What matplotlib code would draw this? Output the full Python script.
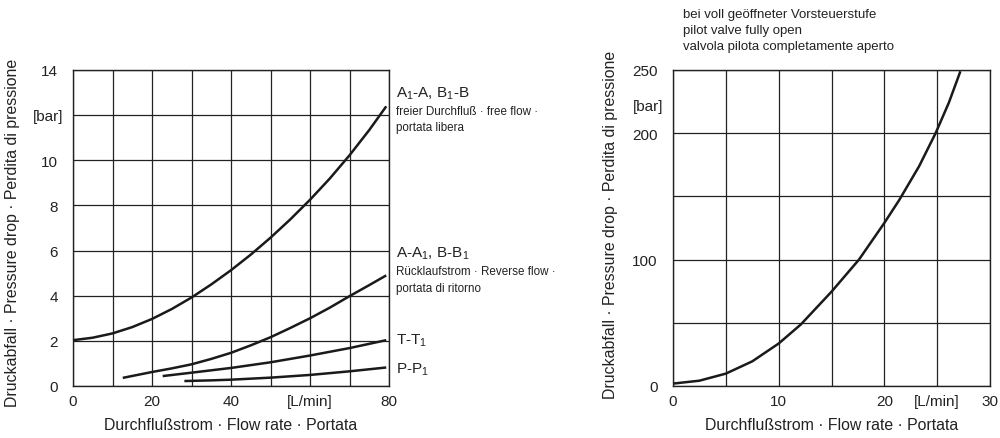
import numpy as np
import matplotlib
matplotlib.use("Agg")
import matplotlib.pyplot as plt

plt.rcParams['font.family'] = ['Liberation Sans', 'DejaVu Sans']
plt.rcParams['mathtext.fontset'] = 'custom'
plt.rcParams['mathtext.rm'] = 'Liberation Sans'

# --- left chart data (flow L/min, pressure drop bar)
free_x = [0, 5, 10, 15, 20, 25, 30, 35, 40, 45, 50, 55, 60, 65, 70, 75, 79.3]
free_y = [2.03, 2.14, 2.33, 2.61, 2.97, 3.41, 3.92, 4.50, 5.13, 5.82, 6.57, 7.38, 8.25, 9.19, 10.22, 11.34, 12.39]
rev_x = [12.6, 20, 25, 30, 35, 40, 45, 50, 55, 60, 65, 70, 75, 79.3]
rev_y = [0.36, 0.62, 0.78, 0.96, 1.2, 1.47, 1.8, 2.16, 2.57, 3.0, 3.47, 3.98, 4.47, 4.9]
tt_x = [22.7, 30, 40, 50, 60, 70, 79.3]
tt_y = [0.44, 0.59, 0.8, 1.05, 1.35, 1.68, 2.03]
pp_x = [28.2, 35, 40, 50, 60, 70, 79.3]
pp_y = [0.22, 0.25, 0.28, 0.37, 0.49, 0.65, 0.82]

left_xticks = [0, 20, 40, 60, 80]
left_xlabels = ["0", "20", "40", "[L/min]", "80"]
left_yticks = [0, 2, 4, 6, 8, 10, 12, 14]
left_ylabels = ["0", "2", "4", "6", "8", "10", "", "14"]

# --- right chart data
pilot_x = [0, 2.5, 5, 7.5, 10, 12.1, 15, 17.6, 20, 21.4, 23.3, 24.85, 26.1, 27.2]
pilot_y = [1.9, 4.2, 9.8, 19.5, 33.6, 48.7, 74.6, 100, 129, 147, 174, 200, 224, 249]

right_xticks = [0, 10, 20, 25, 30]
right_xlabels = ["0", "10", "20", "[L/min]", "30"]
right_yticks = [0, 50, 100, 150, 200, 250]
right_ylabels = ["0", "", "100", "", "200", "250"]

W, H = 1000, 439
fig = plt.figure(figsize=(W / 100, H / 100), dpi=100)
txt = '#222222'


def px(x, y):
    return x / W, 1 - y / H


def setup(ax, xmax, ymax, xstep, ystep, xt, xl, yt, yl):
    ax.set_xlim(0, xmax)
    ax.set_ylim(0, ymax)
    ax.set_xticks(np.arange(0, xmax + 0.01, xstep), minor=True)
    ax.set_yticks(np.arange(0, ymax + 0.01, ystep), minor=True)
    ax.set_xticks(xt, xl)
    ax.set_yticks(yt, yl)
    ax.grid(which='both', color='#222222', lw=0.9)
    ax.tick_params(which='both', length=0, labelsize=11, colors=txt)
    ax.tick_params(axis='x', pad=6)
    ax.tick_params(axis='y', pad=11)
    for s in ax.spines.values():
        s.set_color('#222222')
        s.set_linewidth(1.0)
    ax.set_axisbelow(True)


ax1 = fig.add_axes([73 / W, 52 / H, 316 / W, 316 / H])
setup(ax1, 80, 14, 10, 2, left_xticks, left_xlabels, left_yticks, left_ylabels)
for xs, ys in [(free_x, free_y), (rev_x, rev_y), (tt_x, tt_y), (pp_x, pp_y)]:
    ax1.plot(xs, ys, color='#1a1a1a', lw=1.8, solid_capstyle='butt',
             solid_joinstyle='round', clip_on=False)

ax2 = fig.add_axes([673 / W, 52 / H, 317 / W, 316 / H])
setup(ax2, 30, 250, 5, 50, right_xticks, right_xlabels, right_yticks, right_ylabels)
ax2.plot(pilot_x, pilot_y, color='#1a1a1a', lw=1.8, solid_capstyle='butt',
         solid_joinstyle='round', clip_on=False)

# unit labels
fig.text(*px(63, 117), "[bar]", ha='right', va='center', fontsize=11, color=txt)
fig.text(*px(663, 107), "[bar]", ha='right', va='center', fontsize=11, color=txt)

# axis titles
ylab = "Druckabfall · Pressure drop · Perdita di pressione"
xlab = "Durchflußstrom · Flow rate · Portata"
fig.text(*px(13, 233), ylab, rotation=90, ha='center', va='center', fontsize=11.4, color=txt)
fig.text(*px(611, 225), ylab, rotation=90, ha='center', va='center', fontsize=11.4, color=txt)
fig.text(*px(231, 426), xlab, ha='center', va='center', fontsize=11.4, color=txt)
fig.text(*px(832, 426), xlab, ha='center', va='center', fontsize=11.4, color=txt)

# curve annotations
tx = 396
fig.text(*px(tx, 94), r"A$_\mathregular{1}$-A, B$_\mathregular{1}$-B", ha='left', va='center', fontsize=11, color=txt)
fig.text(*px(tx, 112), "freier Durchfluß · free flow ·", ha='left', va='center', fontsize=8.4, color=txt)
fig.text(*px(tx, 128), "portata libera", ha='left', va='center', fontsize=8.4, color=txt)
fig.text(*px(tx, 254), r"A-A$_\mathregular{1}$, B-B$_\mathregular{1}$", ha='left', va='center', fontsize=11, color=txt)
fig.text(*px(tx, 272), "Rücklaufstrom · Reverse flow ·", ha='left', va='center', fontsize=8.4, color=txt)
fig.text(*px(tx, 289), "portata di ritorno", ha='left', va='center', fontsize=8.4, color=txt)
fig.text(*px(tx, 341), r"T-T$_\mathregular{1}$", ha='left', va='center', fontsize=11, color=txt)
fig.text(*px(tx, 370), r"P-P$_\mathregular{1}$", ha='left', va='center', fontsize=11, color=txt)

# right chart heading
fig.text(*px(683, 15), "bei voll geöffneter Vorsteuerstufe", ha='left', va='center', fontsize=9.5, color=txt)
fig.text(*px(683, 31), "pilot valve fully open", ha='left', va='center', fontsize=9.5, color=txt)
fig.text(*px(683, 47), "valvola pilota completamente aperto", ha='left', va='center', fontsize=9.5, color=txt)

fig.savefig("out.png", dpi=100, facecolor='white')
